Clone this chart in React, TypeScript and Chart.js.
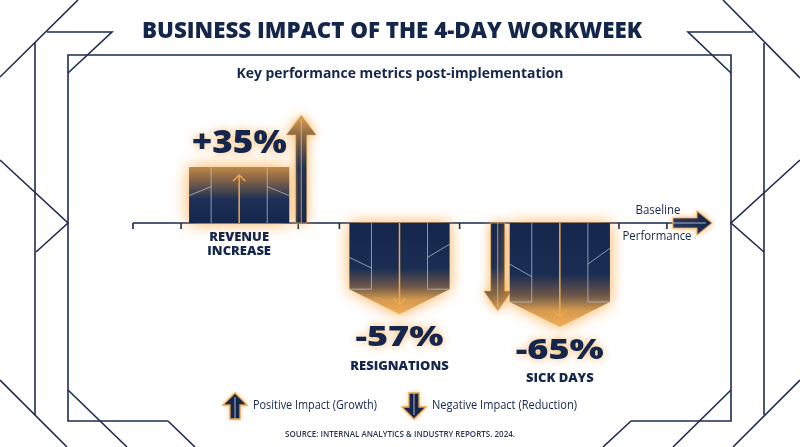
import React, { useEffect, useRef } from 'react';
import { Chart, registerables } from 'chart.js';

Chart.register(...registerables);

// ---- data ----
const categories: string[][] = [['REVENUE', 'INCREASE'], ['RESIGNATIONS'], ['SICK DAYS']];
const impactValues: number[] = [35, -57, -65];
const valueLabels: string[] = ['+35%', '-57%', '-65%'];
const legendLabels: string[] = ['Positive Impact (Growth)', 'Negative Impact (Reduction)'];
const axisLabels: string[] = ['Baseline', 'Performance'];
const titleText = 'BUSINESS IMPACT OF THE 4-DAY WORKWEEK';
const subtitleText = 'Key performance metrics post-implementation';
const sourceText = 'SOURCE: INTERNAL ANALYTICS & INDUSTRY REPORTS. 2024.';

// ---- styles ----
const NAVY = '#14264b';
const ORANGE = '#f2a94b';
const PANEL = 'rgba(190,200,220,0.7)';
const FAMILY = '"Open Sans", sans-serif';

function poly(ctx: CanvasRenderingContext2D, pts: number[]) {
  ctx.beginPath();
  ctx.moveTo(pts[0], pts[1]);
  for (let i = 2; i < pts.length; i += 2) ctx.lineTo(pts[i], pts[i + 1]);
  ctx.stroke();
}

// targetW > 0: fit to width; targetW < 0: use -targetW as horizontal scale
function fitText(
  ctx: CanvasRenderingContext2D,
  text: string,
  cx: number,
  cy: number,
  size: number,
  weight: number,
  targetW: number | null,
  color: string,
  align: CanvasTextAlign = 'center',
  glow = 0
) {
  ctx.save();
  ctx.font = `${weight} ${size}px ${FAMILY}`;
  ctx.textAlign = align;
  ctx.textBaseline = 'middle';
  ctx.fillStyle = color;
  const w = ctx.measureText(text).width;
  let sx = 1;
  if (targetW && targetW > 0) sx = targetW / w;
  else if (targetW && targetW < 0) sx = -targetW;
  ctx.translate(cx, cy);
  ctx.scale(sx, 1);
  if (glow) {
    ctx.shadowColor = 'rgba(245,165,70,0.8)';
    ctx.shadowBlur = glow;
  }
  ctx.fillText(text, 0, 0);
  ctx.restore();
}

function vArrowPath(ctx: CanvasRenderingContext2D, cx: number, from: number, tip: number, shaftW: number, headW: number, headL: number) {
  const dir = tip < from ? -1 : 1;
  const hb = tip - dir * headL;
  ctx.beginPath();
  ctx.moveTo(cx - shaftW / 2, from);
  ctx.lineTo(cx - shaftW / 2, hb);
  ctx.lineTo(cx - headW / 2, hb);
  ctx.lineTo(cx, tip);
  ctx.lineTo(cx + headW / 2, hb);
  ctx.lineTo(cx + shaftW / 2, hb);
  ctx.lineTo(cx + shaftW / 2, from);
  ctx.closePath();
}

function drawSideArrow(ctx: CanvasRenderingContext2D, cx: number, from: number, tip: number, shaftW: number, headW: number, headL: number) {
  ctx.save();
  const g = ctx.createLinearGradient(0, from, 0, tip);
  g.addColorStop(0, NAVY);
  g.addColorStop(0.5, '#1c2e54');
  g.addColorStop(0.82, '#8c6a45');
  g.addColorStop(1, '#e0a452');
  vArrowPath(ctx, cx, from, tip, shaftW, headW, headL);
  ctx.shadowColor = 'rgba(250,165,60,0.9)';
  ctx.shadowBlur = 12;
  ctx.fillStyle = g;
  ctx.fill();
  ctx.shadowBlur = 0;
  ctx.strokeStyle = 'rgba(245,175,85,0.6)';
  ctx.lineWidth = 1;
  ctx.stroke();
  const dir = tip < from ? -1 : 1;
  ctx.strokeStyle = 'rgba(230,200,150,0.7)';
  poly(ctx, [cx, from, cx, tip - dir * 4]);
  ctx.restore();
}

function drawUpBar(ctx: CanvasRenderingContext2D, left: number, right: number, top: number, base: number) {
  const w = right - left;
  const h = base - top;
  const cx = (left + right) / 2;
  ctx.save();
  const g = ctx.createLinearGradient(0, top, 0, base);
  g.addColorStop(0, '#c08946');
  g.addColorStop(0.2, '#8a6746');
  g.addColorStop(0.58, '#1e3055');
  g.addColorStop(1, NAVY);
  ctx.shadowColor = 'rgba(250,165,60,0.9)';
  ctx.shadowBlur = 16;
  ctx.fillStyle = g;
  ctx.fillRect(left, top, w, h);
  ctx.shadowBlur = 0;
  ctx.strokeStyle = PANEL;
  ctx.lineWidth = 1;
  const p1 = left + w * 0.22;
  const p2 = right - w * 0.22;
  poly(ctx, [p1, top, p1, base]);
  poly(ctx, [p2, top, p2, base]);
  poly(ctx, [left, top + 0.51 * h, p1, top + 0.35 * h]);
  poly(ctx, [p2, top + 0.35 * h, right, top + 0.51 * h]);
  ctx.strokeStyle = ORANGE;
  ctx.lineWidth = 1.5;
  poly(ctx, [cx, base, cx, top + 8]);
  poly(ctx, [cx - 6, top + 14, cx, top + 8, cx + 6, top + 14]);
  ctx.restore();
}

function drawDownBar(ctx: CanvasRenderingContext2D, left: number, right: number, base: number, tip: number) {
  const w = right - left;
  const cx = (left + right) / 2;
  const head = 25;
  const rb = tip - head;
  ctx.save();
  const g = ctx.createLinearGradient(0, base, 0, tip);
  g.addColorStop(0, NAVY);
  g.addColorStop(0.5, '#1b2d53');
  g.addColorStop(0.7, '#6e5848');
  g.addColorStop(0.84, '#d39a50');
  g.addColorStop(1, '#f3ad55');
  ctx.beginPath();
  ctx.moveTo(left, base);
  ctx.lineTo(right, base);
  ctx.lineTo(right, rb);
  ctx.lineTo(cx, tip);
  ctx.lineTo(left, rb);
  ctx.closePath();
  ctx.shadowColor = 'rgba(250,165,60,0.9)';
  ctx.shadowBlur = 16;
  ctx.fillStyle = g;
  ctx.fill();
  ctx.shadowBlur = 0;
  ctx.strokeStyle = PANEL;
  ctx.lineWidth = 1;
  const p1 = left + w * 0.22;
  const p2 = right - w * 0.22;
  const s = rb - base;
  poly(ctx, [p1, base, p1, rb, left, rb]);
  poly(ctx, [p2, base, p2, rb, right, rb]);
  poly(ctx, [left, base + 0.52 * s, p1, base + 0.68 * s]);
  poly(ctx, [p2, base + 0.52 * s, right, base + 0.32 * s]);
  ctx.strokeStyle = ORANGE;
  ctx.lineWidth = 1.5;
  poly(ctx, [cx, base, cx, tip - 10]);
  poly(ctx, [cx - 6, tip - 16, cx, tip - 10, cx + 6, tip - 16]);
  ctx.restore();
}

function legendIcon(ctx: CanvasRenderingContext2D, cx: number, top: number, bottom: number, up: boolean) {
  ctx.save();
  const tip = up ? top : bottom;
  const from = up ? bottom : top;
  vArrowPath(ctx, cx, from, tip, 10, 24, 12);
  ctx.fillStyle = NAVY;
  ctx.shadowColor = 'rgba(250,165,60,0.8)';
  ctx.shadowBlur = 4;
  ctx.fill();
  ctx.shadowBlur = 0;
  ctx.strokeStyle = '#e9a24a';
  ctx.lineWidth = 1.3;
  ctx.stroke();
  ctx.strokeStyle = 'rgba(210,215,230,0.8)';
  ctx.lineWidth = 1;
  poly(ctx, [cx, from, cx, tip + (up ? 4 : -4)]);
  ctx.restore();
}

const decorPlugin = {
  id: 'decor',
  beforeDraw(chart: any) {
    const ctx: CanvasRenderingContext2D = chart.ctx;
    ctx.save();
    ctx.fillStyle = '#ffffff';
    ctx.fillRect(0, 0, chart.width, chart.height);
    ctx.strokeStyle = '#1d2c50';
    ctx.lineWidth = 1.6;
    const frame: number[][] = [
      [168, 421, 68, 421, 68, 55, 731, 55, 731, 421, 631, 421],
      [168, 421, 195, 447],
      [631, 421, 603, 447],
      [68, 73, 112, 32, 47, 32],
      [0, 77, 78, 0],
      [35, 43, 35, 415],
      [0, 160, 68, 223, 36, 252],
      [0, 380, 67, 447],
      [68, 390, 127, 447],
      [731, 73, 688, 32, 753, 32],
      [723, 0, 800, 78],
      [764, 43, 764, 415],
      [800, 160, 731, 223, 764, 252],
      [731, 390, 673, 447],
      [800, 380, 733, 447],
    ];
    frame.forEach((p) => poly(ctx, p));
    ctx.restore();

    fitText(ctx, titleText, 392, 32, 22, 800, 500, NAVY);
    fitText(ctx, subtitleText, 400, 74, 14, 700, 327, NAVY);
  },
  afterDatasetsDraw(chart: any) {
    const ctx: CanvasRenderingContext2D = chart.ctx;
    const area = chart.chartArea;
    const meta = chart.getDatasetMeta(0);
    const els = meta.data.map((el: any) => el.getProps(['x', 'y', 'base', 'width'], true));
    const base = els[0].base;

    // axis line + ticks
    ctx.save();
    ctx.strokeStyle = NAVY;
    ctx.lineWidth = 1.6;
    poly(ctx, [area.left - 26, base, area.right + 40, base]);
    const L = els.map((e: any) => e.x - e.width / 2);
    const R = els.map((e: any) => e.x + e.width / 2);
    const ticks = [area.left - 26, L[0] - 8, R[0] + 9, L[1] - 10, R[1] + 10, R[2] + 9, R[2] + 57];
    ticks.forEach((t) => poly(ctx, [t, base, t, base + 6]));
    ctx.restore();

    // axis arrow
    ctx.save();
    const ax0 = area.right + 33;
    const axTip = area.right + 72;
    const hb = axTip - 15;
    ctx.beginPath();
    ctx.moveTo(ax0, base - 5);
    ctx.lineTo(hb, base - 5);
    ctx.lineTo(hb, base - 12);
    ctx.lineTo(axTip, base);
    ctx.lineTo(hb, base + 12);
    ctx.lineTo(hb, base + 5);
    ctx.lineTo(ax0, base + 5);
    ctx.closePath();
    const ag = ctx.createLinearGradient(ax0, 0, axTip, 0);
    ag.addColorStop(0, '#2a3a5e');
    ag.addColorStop(1, NAVY);
    ctx.fillStyle = ag;
    ctx.shadowColor = 'rgba(250,165,60,0.9)';
    ctx.shadowBlur = 6;
    ctx.fill();
    ctx.shadowBlur = 0;
    ctx.strokeStyle = 'rgba(240,170,80,0.8)';
    ctx.lineWidth = 1.2;
    ctx.stroke();
    ctx.strokeStyle = 'rgba(200,205,220,0.8)';
    ctx.lineWidth = 1;
    poly(ctx, [ax0, base, axTip - 6, base]);
    ctx.restore();

    // bars
    els.forEach((e: any, i: number) => {
      const left = e.x - e.width / 2;
      const right = e.x + e.width / 2;
      if (impactValues[i] >= 0) {
        drawSideArrow(ctx, right + 12, e.base, e.y - 52, 11, 30, 20);
        drawUpBar(ctx, left, right, e.y, e.base);
      } else {
        if (i === impactValues.length - 1) {
          drawSideArrow(ctx, left - 12, e.base, e.y - 16, 14, 28, 20);
        }
        drawDownBar(ctx, left, right, e.base, e.y);
      }
    });

    // labels
    els.forEach((e: any, i: number) => {
      const lines = categories[i];
      if (impactValues[i] >= 0) {
        fitText(ctx, valueLabels[i], e.x, e.y - 23, 31, 800, 95, NAVY, 'center', 8);
        lines.forEach((ln, k) => fitText(ctx, ln, e.x, e.base + 15 + k * 14, 12, 800, -1.08, NAVY));
      } else {
        fitText(ctx, valueLabels[i], e.x, e.y + 24, 29, 800, 88, NAVY, 'center', 8);
        lines.forEach((ln, k) => fitText(ctx, ln, e.x, e.y + 52 + k * 14, 12, 800, -1.08, NAVY));
      }
    });

    // baseline labels
    fitText(ctx, axisLabels[0], area.right + 18, base - 12, 12, 500, 45, NAVY);
    fitText(ctx, axisLabels[1], area.right + 17, base + 14, 12, 500, 69, NAVY);

    // legend
    legendIcon(ctx, 235, 393, 419, true);
    fitText(ctx, legendLabels[0], 253, 406, 12, 500, 124, NAVY, 'left');
    legendIcon(ctx, 414, 393, 419, false);
    fitText(ctx, legendLabels[1], 432, 406, 12, 500, 145, NAVY, 'left');
    fitText(ctx, sourceText, 400, 435, 8.5, 600, 230, '#2a3550');
  },
};

export default function App() {
  const ref = useRef<HTMLCanvasElement>(null);
  useEffect(() => {
    document.body.style.margin = '0';
    const chart = new Chart(ref.current as HTMLCanvasElement, {
      type: 'bar',
      data: {
        labels: categories,
        datasets: [
          {
            data: impactValues,
            backgroundColor: 'rgba(0,0,0,0)',
            borderWidth: 0,
            barPercentage: 0.625,
            categoryPercentage: 1,
          },
        ],
      },
      options: {
        responsive: false,
        animation: false,
        layout: { padding: { left: 159, right: 160, top: 95, bottom: 96 } },
        scales: {
          x: { display: false },
          y: { display: false, min: -80, max: 80 },
        },
        plugins: { legend: { display: false }, tooltip: { enabled: false } },
      },
      plugins: [decorPlugin],
    } as any);
    return () => chart.destroy();
  }, []);
  return (
    <div style={{ position: 'absolute', left: 0, top: 0, width: 800, height: 447, background: '#fff' }}>
      <canvas ref={ref} width={800} height={447} style={{ display: 'block', width: 800, height: 447 }} />
    </div>
  );
}
